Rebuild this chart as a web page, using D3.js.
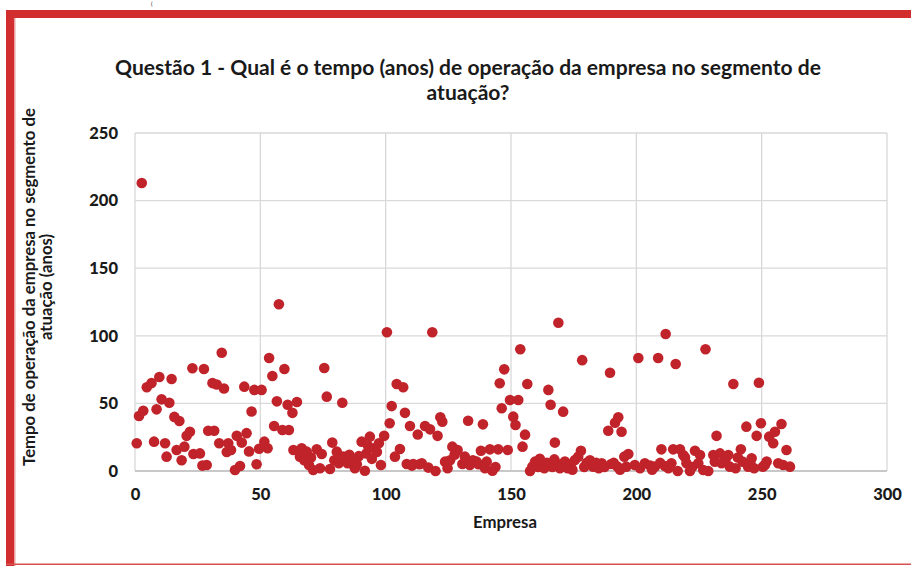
<!DOCTYPE html>
<html>
<head>
<meta charset="utf-8">
<script src="https://cdn.jsdelivr.net/npm/d3@7"></script>
<style>
  html, body { margin: 0; padding: 0; background: #fff; }
  svg { display: block; }
  text { font-family: Lato, "Open Sans", "Liberation Sans", sans-serif; font-weight: bold; fill: #1a1a1a; }
</style>
</head>
<body>
<svg id="chart" width="911" height="566"></svg>
<script>
const titleLines = ["Questão 1 - Qual é o tempo (anos) de operação da empresa no segmento de", "atuação?"];
const yTitleLines = ["Tempo de operação da empresa no segmento de", "atuação (anos)"];
const xTitle = "Empresa";
const xTicks = [0, 50, 100, 150, 200, 250, 300];
const yTicks = [0, 50, 100, 150, 200, 250];

const empresa = [
  0.7,1.6,2.7,3.3,4.7,6.6,7.6,8.6,9.7,10.6,12,12.6,13.7,14.6,15.7,16.6,17.7,18.6,19.7,20.6,21.9,22.9,23.3,25.9,26.9,27.5,28.6,29.2,30.9,31.6,32.6,33.6,34.6,35.5,36.6,37.2,38.3,39.9,40.6,41.9,42.6,43.6,44.5,45.5,46.5,47.6,48.5,49.5,50.5,
  51.6,52.9,53.5,54.8,55.5,56.6,57.4,58.8,59.6,60.9,61.4,62.8,63.2,64.6,65.8,66.5,67.5,68.5,69.4,70.2,71.1,72.5,73.8,74.5,75.5,76.5,77.8,78.7,79.5,80.5,81.3,82.7,83.1,84.8,85.5,86.4,87.7,88.5,89.3,90.4,91.7,92.3,93,93.7,94.5,95.5,96.5,97.3,98.1,99.4,
  100.5,101.6,102.4,103.7,104.4,105.7,107,107.7,108.4,109.7,110.5,111,112.8,113.5,114.4,115.7,117,117.7,118.6,119.9,120.7,121.8,122.6,123.7,124.7,125.7,126.6,127.5,128.7,130.6,131.6,132.9,133.6,134.8,136.3,137,138,138.8,139.6,140.3,141.6,142.6,143.8,144.9,145.5,146.3,147.3,148.7,149.6,
  150.9,151.8,152.9,153.7,154.6,155.6,156.5,157.6,158.5,159.6,160.8,161.5,162.2,163.3,164.3,164.9,165.8,166.5,167.3,167.5,168.9,169.5,170.2,170.8,171.5,172.6,173.8,174.5,175.5,176.8,177.9,178.4,179.2,180.2,181.5,182.8,184,185,186.2,187.3,188.8,189.5,190,191,191.5,192.5,192.8,193.5,194.1,195.2,196,196.8,
  199.4,200.8,201.5,203.4,205.5,206.3,207.4,208.7,209.5,210,211.4,211.7,212.8,214,214.7,215.7,216.5,217.4,218.7,219.4,220,221.4,222.3,223.4,224.7,225.4,226.7,227.6,228.7,230.7,231.3,232,233.4,234,235.5,236.7,237.3,238.7,239.6,240.5,241.7,242.4,243.9,244.6,245.5,246,247,248,248.9,249.7,250.5,251.3,252,253,254.6,255.3,256.6,257.9,258.6,259.9,261.3
];
const tempo = [
  20.5,40.7,213,44.6,62,65,21.7,45.6,69.5,53,20.5,10.6,50.5,68,40,15.5,37,8,18,26,29,76,12.6,13,4,75.4,4.4,29.8,65,29.8,64,20.5,87.5,61,14,20.5,15.5,0.7,26,3.7,21,62.4,28,14.5,44,60,5,16.5,60,
  21.7,16.8,83.6,70.3,33.3,51.5,123.3,30.3,75.4,49,30.3,43,15.5,51,10.6,16.8,8,14.3,4.4,10,0.7,16,2,12.6,76.2,55,1.5,21,8,14.3,5.7,50.5,10.6,5.7,12,6.9,2,5,11,21.7,0.2,13,18.5,25.4,9,16.8,14,20.5,4.4,26,
  102.6,35.3,48,10.6,64.3,16.3,61.9,43,5.2,33.3,4,5.2,27,5,5.7,33.3,2.5,30.8,102.6,0,26,39.7,36.5,6.9,2,8,18,12,15.5,5.2,10.6,37.2,4.4,8,6.9,5,15,34.5,2,6.9,16,0.2,3,16,64.9,46.4,75.2,15.5,52.5,
  40.2,34,52.5,90,18,26.9,64.3,0,3.2,6.9,3,9,5.2,2,6.1,60,49,3,8.6,21,109.7,2,5.2,43.9,7,2,5,1,8.1,10.6,15,82,3,6.1,8,3.2,6,2,5.7,3,29.8,72.7,5.2,6,35.7,3.2,39.7,1,29,10.6,3.2,12.6,
  4.4,83.6,2,5.7,4,1,3.2,83.6,6,16,3.7,101.3,2,5.7,16,79.1,0,16,11.8,10.1,5.7,0,3,15,5.7,11.8,0.7,90,0,11.8,6.9,26,13,5.7,8,11.8,3.2,64.3,2,10,16,6.9,32.8,3.2,6,9.4,2,26,65.3,35.3,3.2,4.4,7,25.4,20.5,29,5.7,34.8,4.4,15.5,3.2
];

const svg = d3.select("#chart");
const W = 911, H = 566;
svg.append("rect").attr("width", W).attr("height", H).attr("fill", "#fff");

// frame (red border of the slide)
svg.append("rect").attr("x", 6).attr("y", 10).attr("width", W - 6).attr("height", 8).attr("fill", "#d22e30");
svg.append("rect").attr("x", 6).attr("y", 10).attr("width", 8).attr("height", H - 10).attr("fill", "#d22e30");
svg.append("rect").attr("x", 14).attr("y", 18).attr("width", 1.5).attr("height", H - 18).attr("fill", "#eaa3a4");
svg.append("rect").attr("x", 6).attr("y", 563.5).attr("width", W - 6).attr("height", 1.5).attr("fill", "#d8504f");
svg.append("text").attr("x", 151).attr("y", 6).attr("font-size", 6).style("font-weight", "normal").text("(");

const x = d3.scaleLinear().domain([0, 300]).range([135, 887]);
const y = d3.scaleLinear().domain([0, 250]).range([471, 133]);

// gridlines
const grid = svg.append("g");
grid.selectAll("line.h").data(yTicks).join("line")
  .attr("x1", x(0)).attr("x2", x(300)).attr("y1", d => y(d)).attr("y2", d => y(d))
  .attr("stroke", "#d9d9d9").attr("stroke-width", 1.3);
grid.selectAll("line.v").data(xTicks).join("line")
  .attr("y1", y(0)).attr("y2", y(250)).attr("x1", d => x(d)).attr("x2", d => x(d))
  .attr("stroke", "#d9d9d9").attr("stroke-width", 1.3);
grid.append("line").attr("x1", x(0)).attr("x2", x(300)).attr("y1", y(0)).attr("y2", y(0))
  .attr("stroke", "#c8c8c8").attr("stroke-width", 2);

// axes
const xAxis = svg.append("g").attr("transform", `translate(0,${y(0)})`)
  .call(d3.axisBottom(x).tickValues(xTicks).tickSize(0).tickPadding(17));
const yAxis = svg.append("g").attr("transform", `translate(${x(0) - 17},0)`)
  .call(d3.axisLeft(y).tickValues(yTicks).tickSize(0).tickPadding(0));
[xAxis, yAxis].forEach(a => {
  a.select(".domain").remove();
  a.selectAll("text").attr("font-size", 16.5).attr("fill", "#111")
    .style("font-family", "Lato, 'Open Sans', sans-serif").style("font-weight", "900");
});

// points
svg.append("g").selectAll("circle").data(empresa.map((e, i) => [e, tempo[i]])).join("circle")
  .attr("cx", d => x(d[0])).attr("cy", d => y(d[1])).attr("r", 5.3)
  .attr("fill", "#c1232b");

function fit(sel, target, base) {
  sel.attr("font-size", base);
  const len = sel.node().getComputedTextLength();
  sel.attr("font-size", base * target / len);
}

// title
const t1 = svg.append("text").attr("x", 468).attr("y", 75).attr("text-anchor", "middle").text(titleLines[0]);
fit(t1, 706, 19);
const t2 = svg.append("text").attr("x", 468).attr("y", 100).attr("text-anchor", "middle").text(titleLines[1]);
t2.attr("font-size", t1.attr("font-size"));

// x title
const xt = svg.append("text").attr("x", 505).attr("y", 528).attr("text-anchor", "middle").text(xTitle);
fit(xt, 64, 14);

// y title
const yt1 = svg.append("text").attr("transform", "translate(35,287) rotate(-90)").attr("text-anchor", "middle").text(yTitleLines[0]);
fit(yt1, 358, 13);
const yt2 = svg.append("text").attr("transform", "translate(52,287) rotate(-90)").attr("text-anchor", "middle").text(yTitleLines[1]);
yt2.attr("font-size", yt1.attr("font-size"));
</script>
</body>
</html>
